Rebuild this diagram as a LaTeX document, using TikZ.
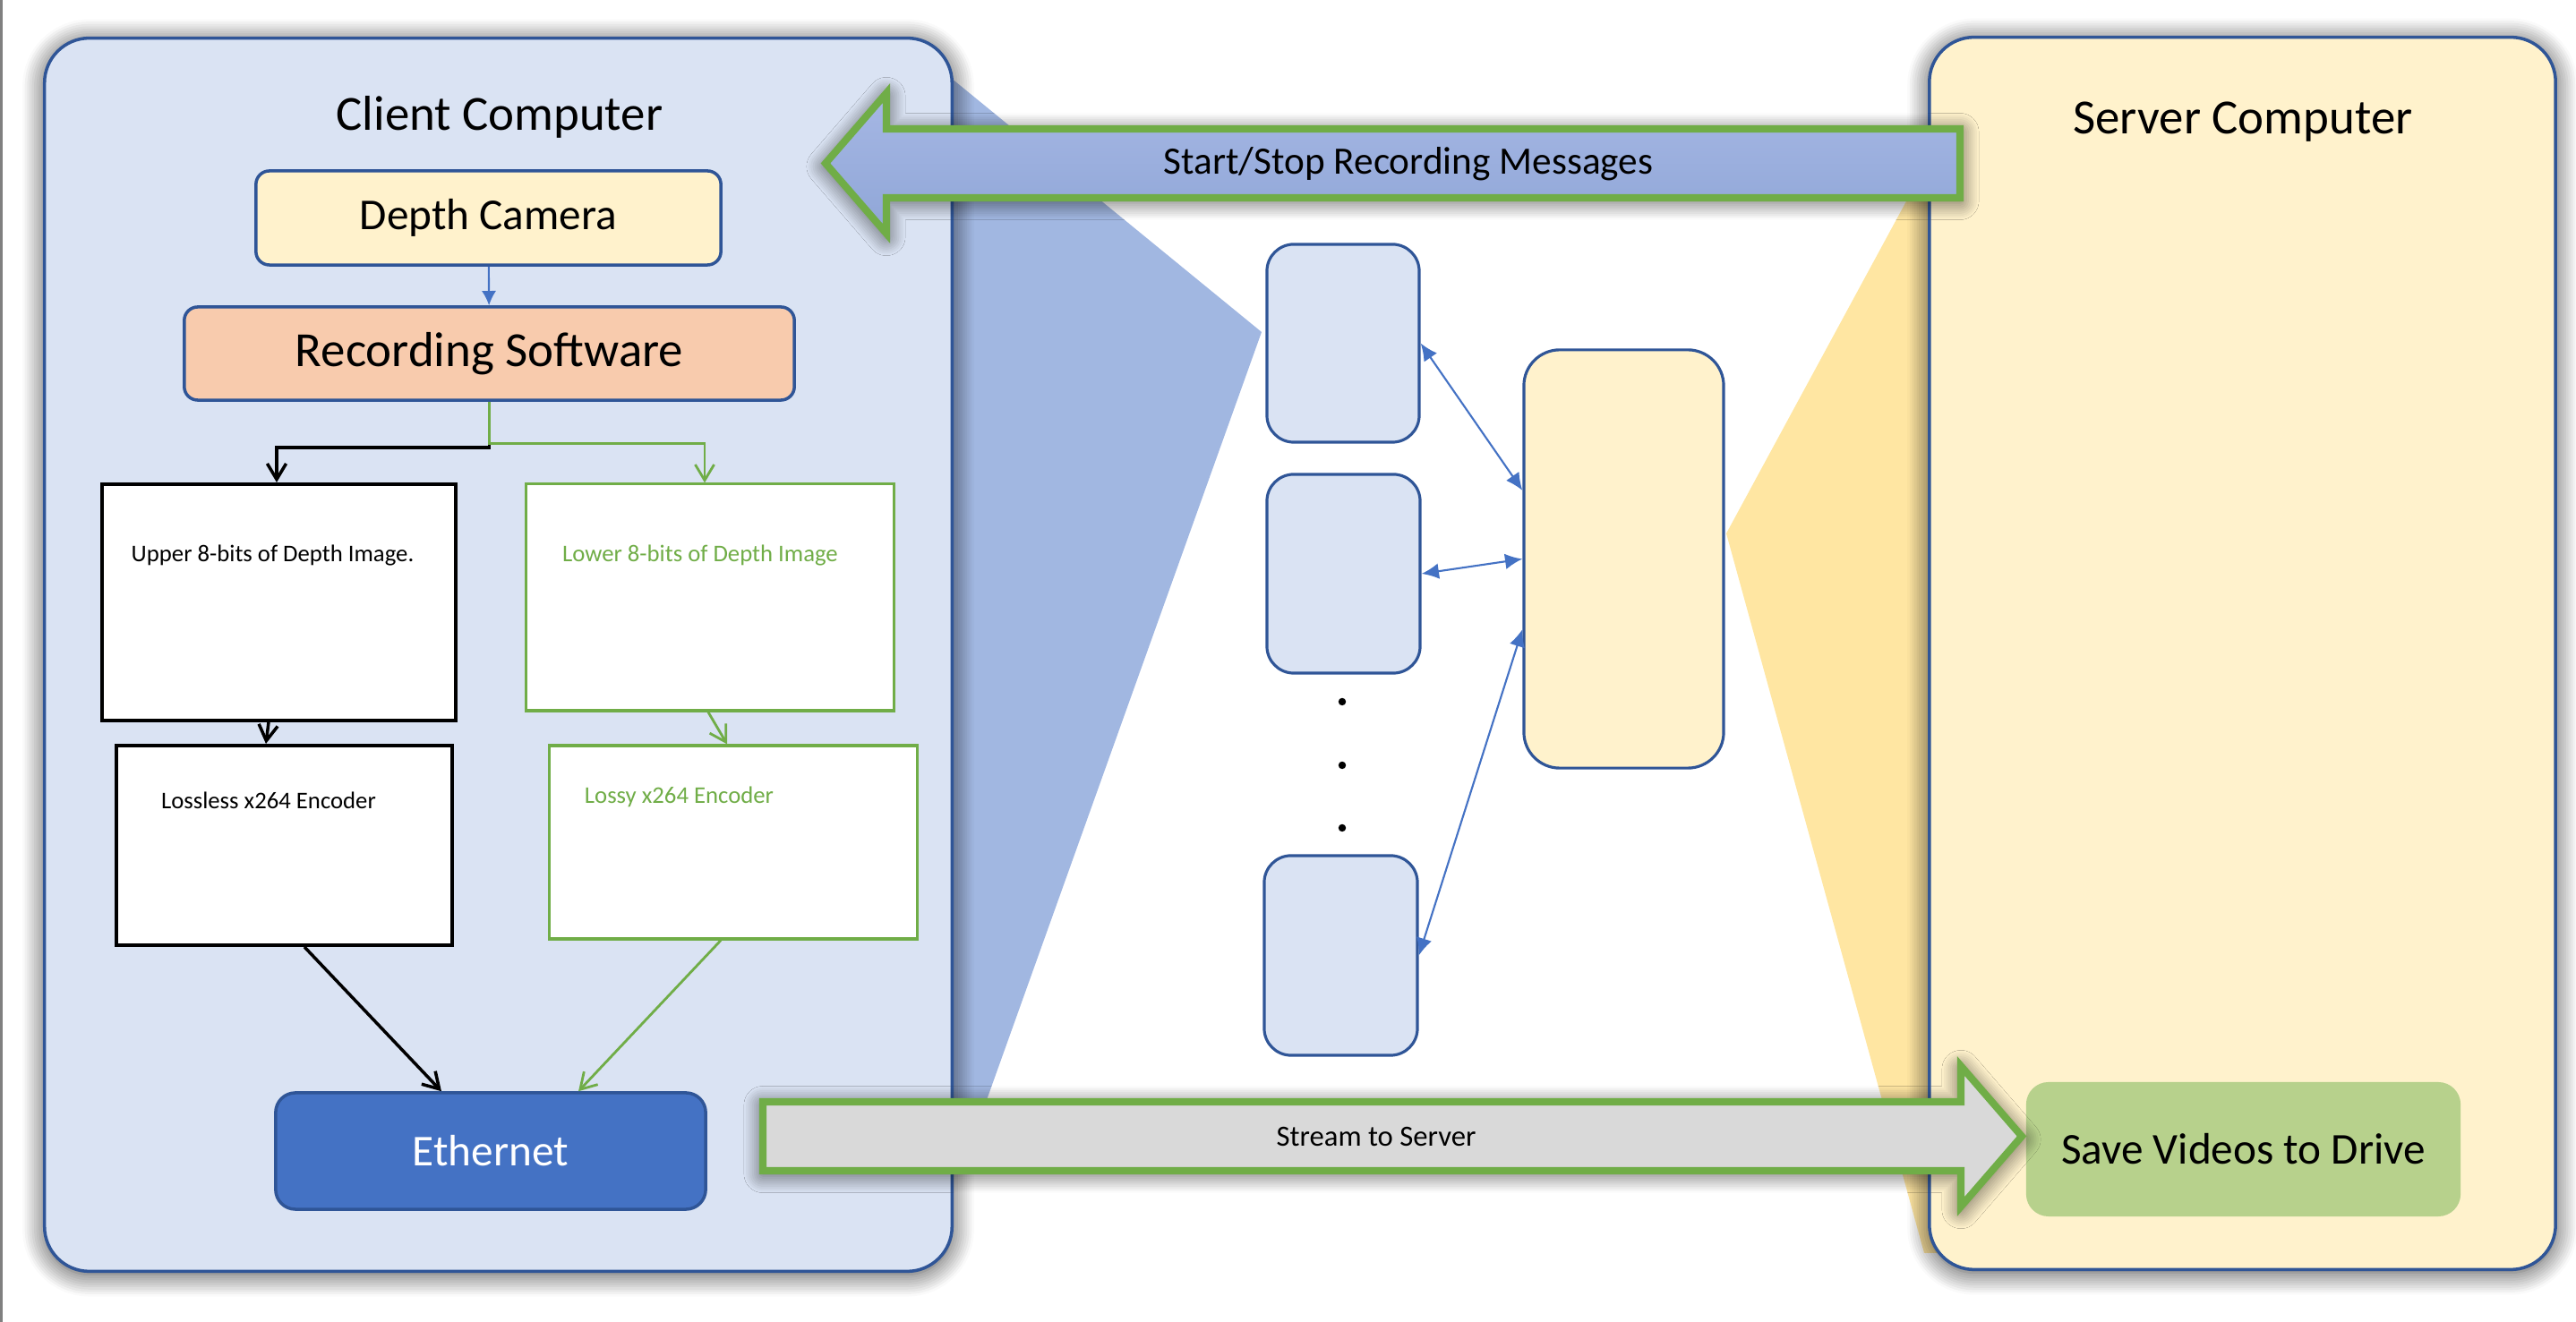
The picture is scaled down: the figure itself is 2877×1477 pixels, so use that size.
\documentclass[tikz,border=0pt]{standalone}
\usepackage{fontspec}
\setmainfont{Carlito}
\usetikzlibrary{arrows.meta, shadows.blur}

\definecolor{clientfill}{HTML}{DAE3F3}
\definecolor{serverfill}{HTML}{FFF2CC}
\definecolor{boxblue}{HTML}{2F5597}
\definecolor{accblue}{HTML}{4472C4}
\definecolor{accgreen}{HTML}{70AD47}
\definecolor{swfill}{HTML}{F8CBAD}
\definecolor{funnelblue}{RGB}{161,183,225}
\definecolor{funnelyellow}{RGB}{255,230,162}
\definecolor{msgtop}{RGB}{166,183,228}
\definecolor{msgbottom}{RGB}{143,166,215}
\definecolor{streamfill}{HTML}{D9D9D9}
\definecolor{savefill}{RGB}{183,209,140}

\tikzstyle{computer} = [rectangle, rounded corners=0.5cm, draw=boxblue, line width=1pt, inner sep=0pt, blur shadow={shadow xshift=0pt, shadow yshift=-1pt, shadow blur radius=7pt, shadow opacity=75, shadow blur steps=10}]
\tikzstyle{unit} = [rectangle, rounded corners=0.15cm, draw=boxblue, line width=1pt, inner sep=0pt, text centered]
\tikzstyle{stage} = [rectangle, draw=black, fill=white, line width=1.1pt, inner sep=0pt]
\tikzstyle{greenstage} = [stage, draw=accgreen, line width=0.9pt]
\tikzstyle{worker} = [rectangle, rounded corners=0.3cm, draw=boxblue, fill=clientfill, line width=0.9pt, inner sep=0pt]
\tikzstyle{title} = [font=\fontsize{15.6}{18}\selectfont]
\tikzstyle{small} = [font=\fontsize{7.6}{9}\selectfont, inner sep=0pt]
\tikzstyle{bigarrow} = [draw=accgreen, line width=2.3pt, line join=miter, blur shadow={shadow xshift=0pt, shadow yshift=-1pt, shadow blur radius=6pt, shadow opacity=70, shadow blur steps=10}]
\tikzstyle{bluearrow} = [accblue, line width=0.6pt, -{Latex[length=4.6pt,width=4.6pt]}]
\tikzstyle{blackarrow} = [black, line width=1pt, -{Straight Barb[length=5pt,width=6pt]}]
\tikzstyle{greenarrow} = [accgreen, line width=0.8pt, -{Straight Barb[length=5pt,width=6pt]}]
\tikzstyle{linkarrow} = [accblue, line width=0.6pt, {Latex[length=5.5pt,width=5pt]}-{Latex[length=5.5pt,width=5pt]}]
\tikzstyle{dotnode} = [circle, fill=black, inner sep=0pt, minimum size=2.4pt]

\begin{document}
\begin{tikzpicture}[x=0.01cm, y=-0.01cm]
  \useasboundingbox (0,0) rectangle (2877,1477);
  \draw [gray, line width=0.8pt] (1.5,0) -- (1.5,1477);

  % zoom funnels
  \fill [funnelblue] (1040,69) -- (1409,371) -- (1098,1240) -- (1040,1240) -- cycle;
  \fill [funnelyellow] (1928,596) -- (2175,140) -- (2200,140) -- (2200,1400) -- (2149,1400) -- cycle;

  \node (client) [computer, fill=clientfill, minimum width=10.13cm, minimum height=13.77cm] at (556.5,731.5) {};
  \node (server) [computer, fill=serverfill, minimum width=6.99cm, minimum height=13.76cm] at (2504.5,730) {};
  \node (clienttitle) [title, anchor=base] at (558,146) {Client Computer};
  \node (servertitle) [title, anchor=base] at (2505,150) {Server Computer};

  \node (depth) [unit, fill=serverfill, minimum width=5.19cm, minimum height=1.05cm, font=\fontsize{14}{17}\selectfont] at (545.5,243.5) {Depth Camera};
  \node (rec) [unit, fill=swfill, minimum width=6.81cm, minimum height=1.04cm, font=\fontsize{15.6}{18}\selectfont] at (546.5,395) {Recording Software};
  \node (upper) [stage, minimum width=3.95cm, minimum height=2.64cm] at (311.5,673) {};
  \node (lower) [greenstage, minimum width=4.10cm, minimum height=2.53cm] at (793,667.5) {};
  \node (lossless) [stage, minimum width=3.75cm, minimum height=2.23cm] at (317.5,944.5) {};
  \node (lossy) [greenstage, minimum width=4.10cm, minimum height=2.16cm] at (819,941) {};
  \node (uppertxt) [small] at (304.5,621) {Upper 8-bits of Depth Image.};
  \node (lowertxt) [small, text=accgreen] at (782,621) {Lower 8-bits of Depth Image};
  \node (losslesstxt) [small] at (300,894) {Lossless x264 Encoder};
  \node (lossytxt) [small, text=accgreen] at (758.5,890) {Lossy x264 Encoder};
  \node (eth) [unit, rounded corners=0.22cm, fill=accblue, text=white, minimum width=4.80cm, minimum height=1.30cm, font=\fontsize{14}{17}\selectfont] at (548,1286) {Ethernet};

  \node (srv1) [worker, minimum width=1.70cm, minimum height=2.21cm] at (1500,383.5) {};
  \node (srv2) [worker, minimum width=1.71cm, minimum height=2.22cm] at (1500.5,641) {};
  \node (srv3) [worker, minimum width=1.71cm, minimum height=2.23cm] at (1497.5,1067.5) {};
  \node (d1) [dotnode] at (1499,784) {};
  \node (d2) [dotnode] at (1499,855) {};
  \node (d3) [dotnode] at (1499,925) {};
  \node (hub) [worker, rounded corners=0.4cm, fill=serverfill, minimum width=2.23cm, minimum height=4.67cm] at (1813.5,624.5) {};

  \node (save) [rectangle, rounded corners=0.25cm, fill=savefill, minimum width=4.85cm, minimum height=1.50cm, font=\fontsize{14}{17}\selectfont] at (2505.5,1284) {Save Videos to Drive};

  \draw [bluearrow] (depth) -- (rec);
  \draw [blackarrow] (rec.south) -- ++(0,51) -| ([xshift=-0.025cm]upper.north);
  \draw [greenarrow] (rec.south) -- ++(0,47) -| ([xshift=-0.06cm]lower.north);
  \draw [blackarrow] ([xshift=-0.115cm]upper.south) -- ([xshift=-0.205cm]lossless.north);
  \draw [greenarrow] ([xshift=-0.02cm]lower.south) -- ([xshift=-0.07cm]lossy.north);
  \draw [blackarrow] ([xshift=0.225cm]lossless.south) -- ([xshift=-0.55cm]eth.north);
  \draw [greenarrow] ([xshift=-0.14cm]lossy.south) -- ([xshift=0.98cm]eth.north);

  \draw [linkarrow] (srv1.east) -- ([yshift=0.765cm]hub.west);
  \draw [linkarrow] (srv2.east) -- (hub.west);
  \draw [linkarrow] (srv3.east) -- ([yshift=-0.785cm]hub.west);

  % block arrows
  \draw [bigarrow, top color=msgtop, bottom color=msgbottom] (922,182.5) -- (990,104) -- (990,144) -- (2189,144) -- (2189,221) -- (990,221) -- (990,261) -- cycle;
  \node (msg) [font=\fontsize{12.3}{15}\selectfont] at (1573,183) {Start/Stop Recording Messages};
  \draw [bigarrow, fill=streamfill] (852,1231) -- (2190,1231) -- (2190,1191) -- (2258,1269.5) -- (2190,1348) -- (2190,1308) -- (852,1308) -- cycle;
  \node (stream) [font=\fontsize{9.3}{11}\selectfont] at (1537,1270) {Stream to Server};
\end{tikzpicture}
\end{document}
